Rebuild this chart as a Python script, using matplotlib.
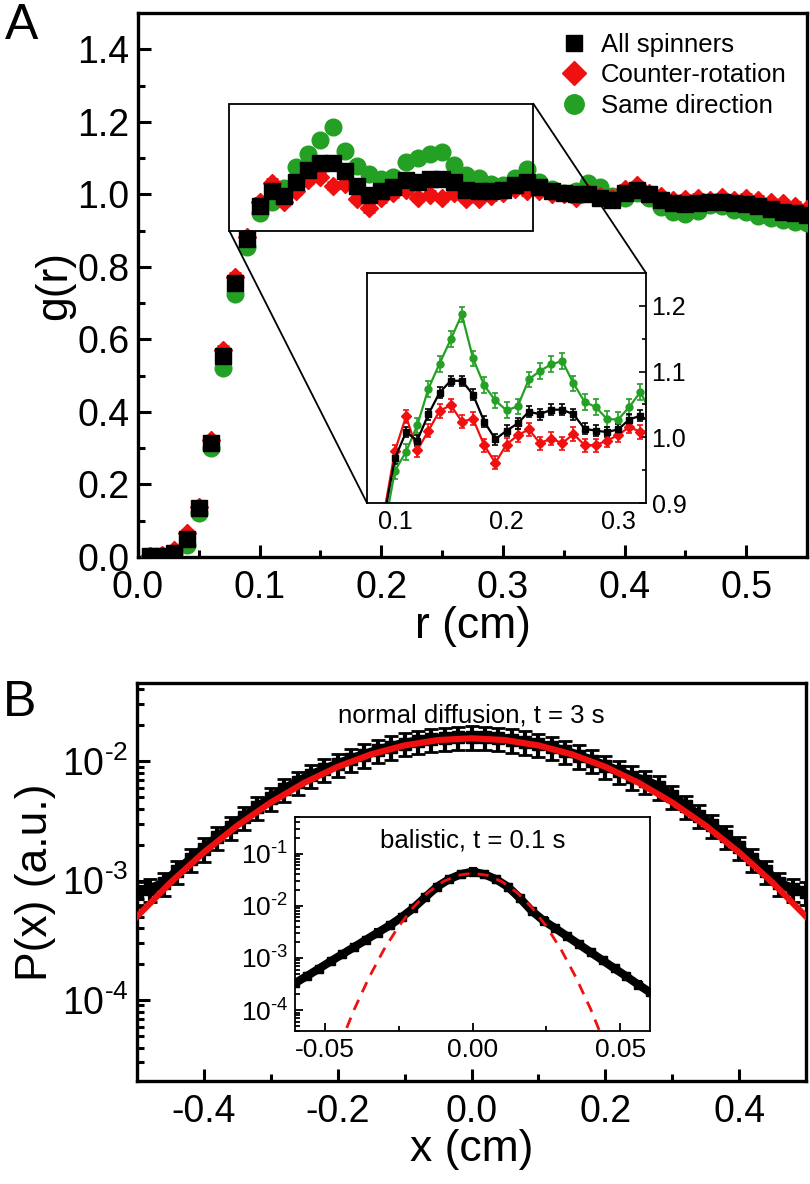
import numpy as np
import matplotlib
matplotlib.use("Agg")
import matplotlib.pyplot as plt
from matplotlib.lines import Line2D
from matplotlib.patches import Rectangle, ConnectionPatch
from matplotlib.ticker import MultipleLocator, LogLocator, NullFormatter, FixedLocator

plt.rcParams['font.family'] = ['Liberation Sans', 'DejaVu Sans']
plt.rcParams['mathtext.fontset'] = 'custom'
plt.rcParams['mathtext.rm'] = 'Liberation Sans'
plt.rcParams['mathtext.it'] = 'Liberation Sans:italic'
plt.rcParams['axes.unicode_minus'] = False

# ---------------- Panel A data ----------------
r_cm = [0.01, 0.02, 0.03, 0.04, 0.05, 0.06, 0.07, 0.08, 0.09, 0.10,
        0.11, 0.12, 0.13, 0.14, 0.15, 0.16, 0.17, 0.18, 0.19, 0.20,
        0.21, 0.22, 0.23, 0.24, 0.25, 0.26, 0.27, 0.28, 0.29, 0.30,
        0.31, 0.32, 0.33, 0.34, 0.35, 0.36, 0.37, 0.38, 0.39, 0.40,
        0.41, 0.42, 0.43, 0.44, 0.45, 0.46, 0.47, 0.48, 0.49, 0.50,
        0.51, 0.52, 0.53, 0.54, 0.55]
g_all = [0.003, 0.004, 0.010, 0.049, 0.134, 0.314, 0.554, 0.755, 0.876, 0.968,
         1.008, 0.995, 1.035, 1.068, 1.086, 1.086, 1.065, 1.024, 0.997, 1.010,
         1.021, 1.039, 1.035, 1.042, 1.042, 1.035, 1.013, 1.010, 1.008, 1.012,
         1.027, 1.033, 1.021, 1.010, 1.005, 1.000, 1.002, 0.990, 0.985, 1.005,
         1.012, 1.000, 0.985, 0.975, 0.973, 0.976, 0.980, 0.978, 0.975, 0.972,
         0.968, 0.960, 0.952, 0.948, 0.943]
g_counter = [0.004, 0.006, 0.020, 0.065, 0.139, 0.323, 0.571, 0.773, 0.882, 0.979,
             1.032, 0.980, 1.010, 1.040, 1.049, 1.024, 1.028, 0.988, 0.961, 0.989,
             1.003, 1.012, 0.991, 0.998, 0.991, 1.005, 0.988, 0.988, 0.995, 1.003,
             1.016, 1.008, 1.010, 1.000, 1.002, 0.990, 1.005, 0.995, 0.990, 1.015,
             1.025, 1.005, 0.995, 0.985, 0.988, 0.990, 0.985, 0.992, 0.985, 0.990,
             0.985, 0.978, 0.975, 0.968, 0.960]
g_same = [0.002, 0.003, 0.010, 0.033, 0.121, 0.300, 0.521, 0.725, 0.856, 0.949,
          0.978, 1.018, 1.074, 1.112, 1.149, 1.187, 1.120, 1.079, 1.056, 1.041,
          1.047, 1.088, 1.101, 1.111, 1.116, 1.082, 1.054, 1.046, 1.028, 1.027,
          1.046, 1.069, 1.035, 1.015, 1.005, 1.010, 1.030, 1.020, 0.995, 0.990,
          1.005, 0.990, 0.965, 0.950, 0.945, 0.955, 0.970, 0.968, 0.958, 0.950,
          0.940, 0.935, 0.930, 0.925, 0.920]
err_all = 0.008
err_counter = 0.010
err_same = 0.012

legend_labels = ["All spinners", "Counter-rotation", "Same direction"]

# ---------------- Panel B data ----------------
x_cm = [-0.50, -0.48, -0.46, -0.44, -0.42, -0.40, -0.38, -0.36, -0.34, -0.32,
        -0.30, -0.28, -0.26, -0.24, -0.22, -0.20, -0.18, -0.16, -0.14, -0.12,
        -0.10, -0.08, -0.06, -0.04, -0.02, 0.00, 0.02, 0.04, 0.06, 0.08,
        0.10, 0.12, 0.14, 0.16, 0.18, 0.20, 0.22, 0.24, 0.26, 0.28,
        0.30, 0.32, 0.34, 0.36, 0.38, 0.40, 0.42, 0.44, 0.46, 0.48, 0.50]
p_slow = [8.0e-4, 8.5e-4, 9.5e-4, 1.2e-3, 1.5e-3, 1.85e-3, 2.3e-3, 2.8e-3, 3.4e-3, 4.1e-3,
          4.9e-3, 5.8e-3, 6.7e-3, 7.6e-3, 8.5e-3, 9.4e-3, 1.04e-2, 1.13e-2, 1.23e-2, 1.32e-2,
          1.40e-2, 1.47e-2, 1.52e-2, 1.56e-2, 1.58e-2, 1.60e-2, 1.58e-2, 1.55e-2, 1.51e-2, 1.45e-2,
          1.38e-2, 1.30e-2, 1.21e-2, 1.11e-2, 1.01e-2, 9.1e-3, 8.2e-3, 7.4e-3, 6.8e-3, 6.1e-3,
          5.1e-3, 4.2e-3, 3.5e-3, 2.9e-3, 2.35e-3, 1.9e-3, 1.5e-3, 1.2e-3, 9.5e-4, 8.5e-4, 8.0e-4]
err_slow_rel = 0.22

x_fit = [-0.50, -0.45, -0.40, -0.35, -0.30, -0.25, -0.20, -0.15, -0.10, -0.05, 0.00,
         0.05, 0.10, 0.15, 0.20, 0.25, 0.30, 0.35, 0.40, 0.45, 0.50]
p_fit = [5.0e-4, 9.6e-4, 1.72e-3, 2.88e-3, 4.50e-3, 6.57e-3, 8.95e-3, 1.138e-2, 1.351e-2, 1.498e-2, 1.55e-2,
         1.498e-2, 1.351e-2, 1.138e-2, 8.95e-3, 6.57e-3, 4.50e-3, 2.88e-3, 1.72e-3, 9.6e-4, 5.0e-4]

x_fast = [-0.060, -0.056, -0.052, -0.048, -0.044, -0.040, -0.036, -0.032, -0.028, -0.024,
          -0.020, -0.016, -0.012, -0.008, -0.004, 0.000, 0.004, 0.008, 0.012, 0.016,
          0.020, 0.024, 0.028, 0.032, 0.036, 0.040, 0.044, 0.048, 0.052, 0.056, 0.060]
p_fast = [3.3e-4, 4.5e-4, 6.2e-4, 8.6e-4, 1.18e-3, 1.62e-3, 2.23e-3, 3.07e-3, 4.2e-3, 6.0e-3,
          9.0e-3, 1.45e-2, 2.3e-2, 3.2e-2, 4.0e-2, 4.5e-2, 4.0e-2, 3.2e-2, 2.3e-2, 1.4e-2,
          8.0e-3, 5.2e-3, 3.7e-3, 2.6e-3, 1.82e-3, 1.28e-3, 9.0e-4, 6.3e-4, 4.45e-4, 3.1e-4, 2.2e-4]
err_fast_rel = 0.15

x_gfit = [-0.045, -0.040, -0.035, -0.030, -0.025, -0.020, -0.015, -0.010, -0.005, 0.000,
          0.005, 0.010, 0.015, 0.020, 0.025, 0.030, 0.035, 0.040, 0.045]
p_gfit = [2.07e-5, 1.03e-4, 4.21e-4, 1.43e-3, 4.01e-3, 9.34e-3, 1.80e-2, 2.88e-2, 3.82e-2, 4.2e-2,
          3.82e-2, 2.88e-2, 1.80e-2, 9.34e-3, 4.01e-3, 1.43e-3, 4.21e-4, 1.03e-4, 2.07e-5]

BLACK = '#000000'
RED = '#f01010'
GREEN = '#24a024'

W, H = 810, 1184
fig = plt.figure(figsize=(W / 100, H / 100), dpi=100)


def frac(l, t, r, b):
    return [l / W, 1 - b / H, (r - l) / W, (b - t) / H]


def style_main(ax):
    for s in ax.spines.values():
        s.set_linewidth(2.4)
    ax.tick_params(which='both', direction='in', top=False, right=False, width=2.2,
                   labelsize=27, pad=6)
    ax.tick_params(which='major', length=9)
    ax.tick_params(which='minor', length=5)


def pow_label(v, p):
    e = int(round(np.log10(v)))
    return r'$\mathregular{10^{\text{-}%d}}$' % abs(e)


# ================= Panel A =================
axA = fig.add_axes(frac(138, 13, 807, 557))
series = [(g_same, err_same, GREEN, 'o', 12.0),
          (g_counter, err_counter, RED, 'D', 9.5),
          (g_all, err_all, BLACK, 's', 11.5)]
for vals, err, col, mk, ms in series:
    axA.errorbar(r_cm, vals, yerr=err, fmt=mk, color=col, ms=ms, mec=col,
                 ecolor=col, elinewidth=2, capsize=4, capthick=2, zorder=3)
axA.set_xlim(0, 0.55)
axA.set_ylim(0, 1.5)
axA.xaxis.set_major_locator(MultipleLocator(0.1))
axA.xaxis.set_minor_locator(MultipleLocator(0.05))
axA.yaxis.set_major_locator(FixedLocator([0.0, 0.2, 0.4, 0.6, 0.8, 1.0, 1.2, 1.4]))
axA.yaxis.set_minor_locator(FixedLocator([0.1, 0.3, 0.5, 0.7, 0.9, 1.1, 1.3]))
axA.xaxis.set_major_formatter(matplotlib.ticker.FormatStrFormatter('%.1f'))
axA.yaxis.set_major_formatter(matplotlib.ticker.FormatStrFormatter('%.1f'))
style_main(axA)
axA.tick_params(axis='x', pad=9)
axA.set_xlabel('r (cm)', fontsize=32, labelpad=0)
axA.set_ylabel('g(r)', fontsize=32, labelpad=2)

handles = [Line2D([], [], ls='none', marker='s', color=BLACK, ms=11),
           Line2D([], [], ls='none', marker='D', color=RED, ms=12),
           Line2D([], [], ls='none', marker='o', color=GREEN, ms=14)]
axA.legend(handles, legend_labels, loc='upper left', bbox_to_anchor=((561 - 138) / 669, (557 - 33) / 544),
           frameon=False, fontsize=18.5, handlelength=1.0, handletextpad=0.55,
           labelspacing=0.25, borderpad=0, borderaxespad=0)

# zoom rectangle
rect_x0, rect_x1, rect_y0, rect_y1 = 0.075, 0.325, 0.9, 1.25
axA.add_patch(Rectangle((rect_x0, rect_y0), rect_x1 - rect_x0, rect_y1 - rect_y0,
                        fill=False, ec='black', lw=1.3, zorder=5))

# inset A
axIA = fig.add_axes(frac(367, 273, 646, 503))
for vals, err, col, mk, ms in series:
    axIA.errorbar(r_cm, vals, yerr=err, fmt='-' + mk, color=col, ms=5, mec=col,
                  ecolor=col, elinewidth=1.2, capsize=2.5, capthick=1.2, lw=1.6)
axIA.set_xlim(rect_x0, rect_x1)
axIA.set_ylim(rect_y0, rect_y1)
axIA.xaxis.set_major_locator(FixedLocator([0.1, 0.2, 0.3]))
axIA.yaxis.set_major_locator(FixedLocator([0.9, 1.0, 1.1, 1.2]))
axIA.yaxis.set_minor_locator(FixedLocator([0.95, 1.05, 1.15]))
axIA.xaxis.set_major_formatter(matplotlib.ticker.FormatStrFormatter('%.1f'))
axIA.yaxis.set_major_formatter(matplotlib.ticker.FormatStrFormatter('%.1f'))
axIA.yaxis.tick_right()
for s in axIA.spines.values():
    s.set_linewidth(1.3)
axIA.tick_params(axis='y', which='both', direction='in', left=False, right=True, labelsize=18, width=1.2, pad=4)
axIA.tick_params(axis='y', which='major', length=5)
axIA.tick_params(axis='y', which='minor', length=3)
axIA.tick_params(axis='x', which='both', direction='in', length=0, labelsize=18, pad=5)

for xyA, xyB in [((rect_x0, rect_y0), (0, 0)), ((rect_x1, rect_y1), (1, 1))]:
    cp = ConnectionPatch(xyA=xyA, coordsA=axA.transData, xyB=xyB, coordsB=axIA.transAxes,
                         color='black', lw=1.3)
    fig.add_artist(cp)

# ================= Panel B =================
axB = fig.add_axes(frac(137, 683, 806, 1081))
p_slow_arr = np.array(p_slow)
axB.errorbar(x_cm, p_slow, yerr=err_slow_rel * p_slow_arr, fmt='s', color=BLACK, ms=8,
             ecolor=BLACK, elinewidth=3, capsize=5, capthick=2, zorder=2)
axB.plot(x_cm, p_slow, color=BLACK, lw=7, zorder=2)
axB.plot(x_fit, p_fit, color=RED, lw=4.5, zorder=3)
axB.set_yscale('log')
axB.set_xlim(-0.5, 0.5)
axB.set_ylim(2.1e-5, 4.5e-2)
axB.xaxis.set_major_locator(FixedLocator([-0.4, -0.2, 0.0, 0.2, 0.4]))
axB.xaxis.set_minor_locator(FixedLocator([-0.3, -0.1, 0.1, 0.3]))
axB.xaxis.set_major_formatter(matplotlib.ticker.FormatStrFormatter('%.1f'))
axB.yaxis.set_major_locator(FixedLocator([1e-4, 1e-3, 1e-2]))
axB.yaxis.set_major_formatter(matplotlib.ticker.FuncFormatter(pow_label))
axB.yaxis.set_minor_locator(LogLocator(base=10, subs=np.arange(2, 10)))
axB.yaxis.set_minor_formatter(NullFormatter())
style_main(axB)
axB.tick_params(axis='x', pad=9)
axB.set_xlabel('x (cm)', fontsize=32, labelpad=0)
axB.set_ylabel('P(x) (a.u.)', fontsize=32, labelpad=4)
axB.text(0.0, 2.4e-2, 'normal diffusion, t = 3 s', ha='center', va='center', fontsize=18.5)

# inset B
axIB = fig.add_axes(frac(295, 817, 650, 1031))
p_fast_arr = np.array(p_fast)
axIB.errorbar(x_fast, p_fast, yerr=err_fast_rel * p_fast_arr, fmt='s', color=BLACK, ms=5.5,
              ecolor=BLACK, elinewidth=2, capsize=3, capthick=1.5, zorder=2)
axIB.plot(x_fast, p_fast, color=BLACK, lw=6, zorder=2)
axIB.plot(x_gfit, p_gfit, color=RED, lw=2, ls=(0, (4, 3)), zorder=3)
axIB.set_yscale('log')
axIB.set_xlim(-0.06, 0.06)
axIB.set_ylim(4e-5, 0.5)
axIB.xaxis.set_major_locator(FixedLocator([-0.05, 0.0, 0.05]))
axIB.xaxis.set_minor_locator(FixedLocator([-0.025, 0.025]))
axIB.xaxis.set_major_formatter(matplotlib.ticker.FormatStrFormatter('%.2f'))
axIB.yaxis.set_major_locator(FixedLocator([1e-4, 1e-3, 1e-2, 1e-1]))
axIB.yaxis.set_major_formatter(matplotlib.ticker.FuncFormatter(pow_label))
axIB.yaxis.set_minor_locator(LogLocator(base=10, subs=np.arange(2, 10)))
axIB.yaxis.set_minor_formatter(NullFormatter())
for s in axIB.spines.values():
    s.set_linewidth(1.3)
axIB.tick_params(which='both', direction='in', top=False, right=False, labelsize=19, width=1.3, pad=5)
axIB.tick_params(which='major', length=6)
axIB.tick_params(which='minor', length=3.5)
axIB.text(0.0, 0.18, 'balistic, t = 0.1 s', ha='center', va='center', fontsize=18.5)

# panel letters
fig.text(5 / W, 1 - 3 / H, 'A', fontsize=36, ha='left', va='top')
fig.text(3 / W, 1 - 680 / H, 'B', fontsize=36, ha='left', va='top')

fig.savefig('out.png', dpi=100)
